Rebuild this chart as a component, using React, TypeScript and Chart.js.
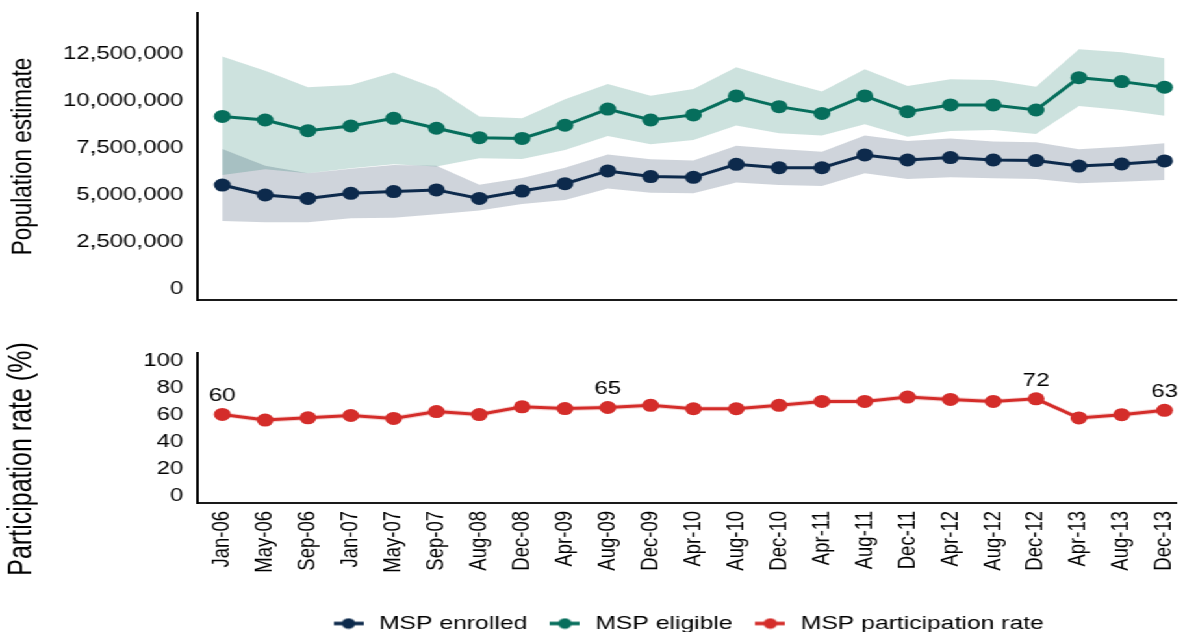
import React, { useEffect, useRef } from "react";
import { Chart, registerables } from "chart.js";

Chart.register(...registerables);

// ---------- data ----------
const months = [
  "Jan-06", "May-06", "Sep-06", "Jan-07", "May-07", "Sep-07", "Aug-08", "Dec-08",
  "Apr-09", "Aug-09", "Dec-09", "Apr-10", "Aug-10", "Dec-10", "Apr-11", "Aug-11",
  "Dec-11", "Apr-12", "Aug-12", "Dec-12", "Apr-13", "Aug-13", "Dec-13",
];

const enrolled = [
  5530000, 5000000, 4820000, 5090000, 5180000, 5270000, 4820000, 5210000,
  5600000, 6280000, 5980000, 5940000, 6630000, 6450000, 6450000, 7130000,
  6860000, 6990000, 6860000, 6830000, 6540000, 6650000, 6810000,
];
const enrolledHigh = [
  7450000, 6550000, 6150000, 6400000, 6600000, 6550000, 5550000, 5900000,
  6450000, 7160000, 6900000, 6830000, 7620000, 7450000, 7300000, 8160000,
  7870000, 8010000, 7840000, 7800000, 7430000, 7570000, 7750000,
];
const enrolledLow = [
  3620000, 3550000, 3550000, 3760000, 3790000, 3970000, 4170000, 4520000,
  4730000, 5350000, 5120000, 5090000, 5660000, 5530000, 5480000, 6150000,
  5850000, 5940000, 5890000, 5850000, 5620000, 5710000, 5800000,
];

const eligible = [
  9180000, 8990000, 8420000, 8670000, 9080000, 8550000, 8050000, 8010000,
  8710000, 9570000, 8990000, 9260000, 10270000, 9700000, 9340000, 10270000,
  9430000, 9790000, 9790000, 9520000, 11240000, 11030000, 10730000,
];
const eligibleHigh = [
  12360000, 11610000, 10730000, 10850000, 11510000, 10670000, 9170000, 9080000,
  10090000, 10900000, 10280000, 10640000, 11790000, 11120000, 10500000, 11690000,
  10800000, 11150000, 11120000, 10760000, 12750000, 12590000, 12270000,
];
const eligibleLow = [
  6060000, 6370000, 6150000, 6420000, 6630000, 6510000, 6950000, 6910000,
  7390000, 8140000, 7700000, 7930000, 8690000, 8280000, 8160000, 8760000,
  8100000, 8400000, 8460000, 8240000, 9730000, 9520000, 9220000,
];

const rate = [
  60.3, 56.1, 57.8, 59.5, 57.3, 62.4, 60.2, 65.9, 64.6, 65.4, 67.0, 64.5,
  64.5, 67.0, 69.9, 69.9, 73.1, 71.4, 69.9, 71.8, 57.7, 60.1, 63.3,
];
const rateHigh = [
  62.0, 58.0, 59.6, 61.4, 59.3, 64.4, 62.1, 67.8, 66.5, 67.3, 68.9, 66.3,
  66.4, 68.9, 71.8, 71.7, 75.0, 73.3, 71.7, 73.6, 59.6, 62.0, 65.2,
];
const rateLow = [
  58.6, 54.2, 56.0, 57.6, 55.3, 60.4, 58.3, 64.0, 62.7, 63.5, 65.1, 62.7,
  62.6, 65.1, 68.0, 68.1, 71.2, 69.5, 68.1, 70.0, 55.8, 58.2, 61.4,
];
const labelledPoints = [0, 9, 19, 22];

const popTicks = [0, 2500000, 5000000, 7500000, 10000000, 12500000];
const rateTicks = [0, 20, 40, 60, 80, 100];

const seriesNames = ["MSP enrolled", "MSP eligible", "MSP participation rate"];
const topTitle = "Population estimate";
const bottomTitle = "Participation rate (%)";

// ---------- style ----------
const NAVY = "#0d2a4c";
const GREEN = "#066e5c";
const RED = "#d42d2a";
const NAVY_BAND = "rgba(13,42,76,0.2)";
const GREEN_BAND = "rgba(6,110,92,0.2)";
const RED_BAND = "rgba(212,45,42,0.2)";
const FONT = "'Liberation Sans', Arial, sans-serif";
const W = 912;
const SX = 1185 / W;
const X_MIN = -0.58;
const X_MAX = 22.28;
const AXIS_W = 152;
const BOT_H = 333;

const pts = (arr: number[]) => arr.map((v, i) => ({ x: i, y: v }));

function lineDs(label: string, arr: number[], color: string) {
  return {
    label,
    data: pts(arr),
    borderColor: color,
    backgroundColor: color,
    borderWidth: 3,
    pointRadius: 6.5,
    pointHoverRadius: 6.5,
    pointBorderWidth: 0,
    pointBackgroundColor: color,
    fill: false,
    tension: 0,
  };
}
function bandDs(label: string, arr: number[], fill: any, color: string) {
  return {
    label,
    data: pts(arr),
    borderWidth: 0,
    borderColor: "rgba(0,0,0,0)",
    pointRadius: 0,
    pointHoverRadius: 0,
    fill,
    backgroundColor: color,
    tension: 0,
  };
}

function makeMarker(color: string) {
  const c = document.createElement("canvas");
  c.width = 23;
  c.height = 12;
  const g = c.getContext("2d")!;
  g.strokeStyle = color;
  g.lineWidth = 3.5;
  g.beginPath();
  g.moveTo(0, 6);
  g.lineTo(23, 6);
  g.stroke();
  g.fillStyle = color;
  g.beginPath();
  g.arc(11.5, 6, 5.2, 0, Math.PI * 2);
  g.fill();
  return c;
}

const noPad = (s: any) => {
  s.paddingTop = 0;
  s.paddingBottom = 0;
  s.paddingLeft = 0;
  s.paddingRight = 0;
};

const valueLabels = {
  id: "valueLabels",
  afterDatasetsDraw(chart: any) {
    const meta = chart.getDatasetMeta(0);
    const ctx = chart.ctx;
    ctx.save();
    ctx.font = `18.5px ${FONT}`;
    ctx.fillStyle = "#000";
    ctx.textAlign = "center";
    ctx.textBaseline = "bottom";
    labelledPoints.forEach((i) => {
      const el = meta.data[i];
      if (!el) return;
      const text = String(Math.round(rate[i]));
      const w = ctx.measureText(text).width;
      let x = el.x;
      if (x + w / 2 > chart.width) x = chart.width - w / 2;
      ctx.fillText(text, x, el.y - 9);
    });
    ctx.restore();
  },
};

// y-axis title of the lower panel, drawn at the left edge, centred lower than the plot area
const sideTitle = {
  id: "sideTitle",
  afterDraw(chart: any) {
    const ctx = chart.ctx;
    ctx.save();
    ctx.font = `25px ${FONT}`;
    ctx.fillStyle = "#000";
    ctx.textAlign = "center";
    ctx.textBaseline = "middle";
    ctx.translate(17, chart.chartArea.top + 106);
    ctx.rotate(-Math.PI / 2);
    ctx.fillText(bottomTitle, 0, 0);
    ctx.restore();
  },
};

export default function App() {
  const topRef = useRef<HTMLCanvasElement>(null);
  const botRef = useRef<HTMLCanvasElement>(null);

  useEffect(() => {
    document.body.style.margin = "0";
    const tickFont = { family: FONT, size: 18.5 };
    const titleFont = { family: FONT, size: 22.5 };

    const top = new Chart(topRef.current!, {
      type: "line",
      data: {
        datasets: [
          lineDs(seriesNames[0], enrolled, NAVY),
          lineDs(seriesNames[1], eligible, GREEN),
          bandDs("eligible upper", eligibleHigh, "+1", GREEN_BAND),
          bandDs("eligible lower", eligibleLow, false, GREEN_BAND),
          bandDs("enrolled upper", enrolledHigh, "+1", NAVY_BAND),
          bandDs("enrolled lower", enrolledLow, false, NAVY_BAND),
        ] as any,
      },
      options: {
        animation: false,
        responsive: true,
        maintainAspectRatio: false,
        layout: { padding: { top: 13, left: 0, right: 0, bottom: 0 } },
        plugins: {
          legend: { display: false },
          tooltip: { enabled: false },
          filler: { drawTime: "beforeDatasetsDraw" },
        } as any,
        scales: {
          x: {
            type: "linear",
            min: X_MIN,
            max: X_MAX,
            grid: { display: false, drawTicks: false },
            border: { display: true, color: "#1a1a1a", width: 2 },
            ticks: { display: false },
            afterFit: (s: any) => {
              s.height = 10;
              noPad(s);
            },
          },
          y: {
            min: -585000,
            max: 14680000,
            grid: { display: false, drawTicks: false },
            border: { display: true, color: "#000", width: 2 },
            ticks: {
              padding: 11,
              color: "#000",
              font: tickFont,
              callback: (v: any) => Number(v).toLocaleString("en-US"),
            },
            afterBuildTicks: (s: any) => {
              s.ticks = popTicks.map((v) => ({ value: v }));
            },
            afterFit: (s: any) => {
              s.width = AXIS_W;
              noPad(s);
            },
            title: {
              display: true,
              text: topTitle,
              color: "#000",
              font: titleFont,
              padding: { top: 4, bottom: 0 },
            },
          },
        } as any,
      },
    });

    const markers = [makeMarker(NAVY), makeMarker(GREEN), makeMarker(RED)];
    const colors = [NAVY, GREEN, RED];

    const bot = new Chart(botRef.current!, {
      type: "line",
      data: {
        datasets: [
          lineDs(seriesNames[2], rate, RED),
          bandDs("rate upper", rateHigh, "+1", RED_BAND),
          bandDs("rate lower", rateLow, false, RED_BAND),
        ] as any,
      },
      options: {
        animation: false,
        responsive: true,
        maintainAspectRatio: false,
        layout: { padding: { top: 43, left: 0, right: 0, bottom: 0 } },
        plugins: {
          tooltip: { enabled: false },
          filler: { drawTime: "beforeDatasetsDraw" },
          legend: {
            display: true,
            position: "bottom",
            fullSize: false,
            labels: {
              usePointStyle: true,
              pointStyleWidth: 28,
              padding: 15,
              color: "#000",
              font: { family: FONT, size: 19 },
              generateLabels: () =>
                seriesNames.map((t, i) => ({
                  text: t,
                  pointStyle: markers[i],
                  fillStyle: colors[i],
                  strokeStyle: colors[i],
                  lineWidth: 0,
                  hidden: false,
                  fontColor: "#000",
                })),
            },
          },
        } as any,
        scales: {
          x: {
            type: "linear",
            min: X_MIN,
            max: X_MAX,
            grid: { display: false, drawTicks: false },
            border: { display: true, color: "#1a1a1a", width: 2 },
            ticks: {
              autoSkip: false,
              minRotation: 90,
              maxRotation: 90,
              padding: 8,
              color: "#000",
              font: tickFont,
              callback: (v: any) => months[v] ?? "",
            },
            afterBuildTicks: (s: any) => {
              s.ticks = months.map((_, i) => ({ value: i }));
            },
            afterFit: (s: any) => {
              s.height = 96;
              noPad(s);
            },
          },
          y: {
            min: -5.2,
            max: 105.7,
            grid: { display: false, drawTicks: false },
            border: { display: true, color: "#000", width: 2 },
            ticks: { padding: 11, color: "#000", font: tickFont },
            afterBuildTicks: (s: any) => {
              s.ticks = rateTicks.map((v) => ({ value: v }));
            },
            afterFit: (s: any) => {
              s.width = AXIS_W;
              noPad(s);
            },
          },
        } as any,
      },
      plugins: [valueLabels, sideTitle],
    });

    return () => {
      top.destroy();
      bot.destroy();
    };
  }, []);

  return (
    <div style={{ width: 1185, height: 632, overflow: "hidden", position: "relative", background: "#fff" }}>
      <div
        style={{
          position: "absolute",
          left: 0,
          top: 0,
          width: W,
          height: 632,
          transform: `scaleX(${SX})`,
          transformOrigin: "0 0",
        }}
      >
        <div style={{ position: "absolute", left: 0, top: 0, width: W, height: 310 }}>
          <canvas ref={topRef} />
        </div>
        <div style={{ position: "absolute", left: 0, top: 310, width: W, height: BOT_H }}>
          <canvas ref={botRef} />
        </div>
      </div>
    </div>
  );
}
